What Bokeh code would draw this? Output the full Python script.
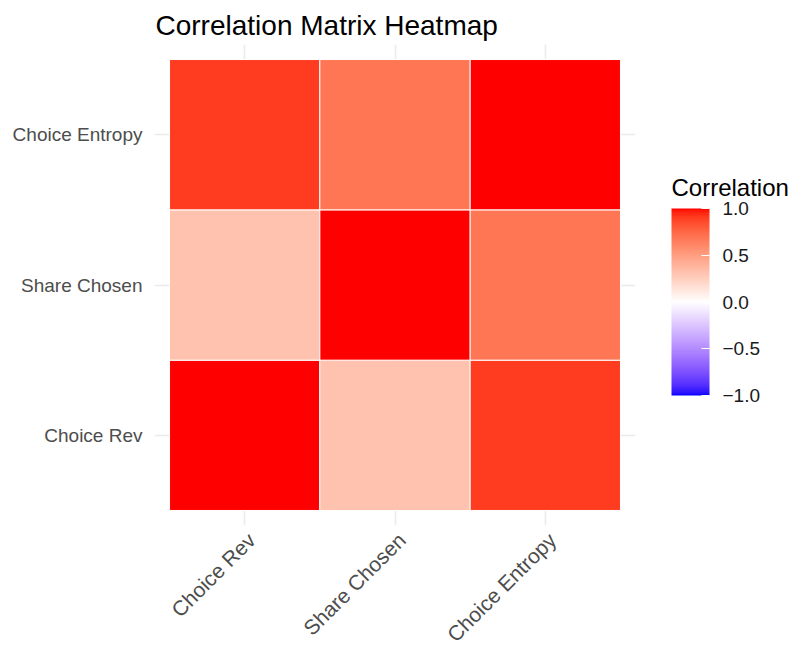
import math
from bokeh.plotting import figure
from bokeh.layouts import row
from bokeh.models import (ColumnDataSource, LinearColorMapper, ColorBar, FixedTicker,
                          CustomJSTickFormatter, Range1d, Label)
from bokeh.embed import file_html
from bokeh.resources import INLINE

# ---------------- data ----------------
variables = ["Choice Rev", "Share Chosen", "Choice Entropy"]
corr_choice_rev = [1.00, 0.32, 0.90]
corr_share_chosen = [0.32, 1.00, 0.68]
corr_choice_entropy = [0.90, 0.68, 1.00]
corr_rows = [corr_choice_rev, corr_share_chosen, corr_choice_entropy]
legend_ticks = [-1.0, -0.5, 0.0, 0.5, 1.0]
legend_title = "Correlation"
chart_title = "Correlation Matrix Heatmap"

# ---------------- colour scale (Lab interpolation blue-white-red) ----------------
def srgb_to_lab(hexc):
    r, g, b = [int(hexc[i:i + 2], 16) / 255 for i in (1, 3, 5)]
    def lin(c):
        return c / 12.92 if c <= 0.04045 else ((c + 0.055) / 1.055) ** 2.4
    r, g, b = lin(r), lin(g), lin(b)
    X = 0.4124 * r + 0.3576 * g + 0.1805 * b
    Y = 0.2126 * r + 0.7152 * g + 0.0722 * b
    Z = 0.0193 * r + 0.1192 * g + 0.9505 * b
    X, Z = X / 0.95047, Z / 1.08883
    def f(t):
        return t ** (1 / 3) if t > 0.008856 else 7.787 * t + 16 / 116
    fx, fy, fz = f(X), f(Y), f(Z)
    return (116 * fy - 16, 500 * (fx - fy), 200 * (fy - fz))

def lab_to_hex(L, a, b):
    fy = (L + 16) / 116
    fx = fy + a / 500
    fz = fy - b / 200
    def finv(t):
        return t ** 3 if t > 0.206893 else (t - 16 / 116) / 7.787
    X, Y, Z = 0.95047 * finv(fx), finv(fy), 1.08883 * finv(fz)
    r = 3.2406 * X - 1.5372 * Y - 0.4986 * Z
    g = -0.9689 * X + 1.8758 * Y + 0.0415 * Z
    bb = 0.0557 * X - 0.2040 * Y + 1.0570 * Z
    def gam(c):
        c = min(max(c, 0.0), 1.0)
        return 12.92 * c if c <= 0.0031308 else 1.055 * c ** (1 / 2.4) - 0.055
    return "#%02x%02x%02x" % tuple(int(round(gam(c) * 255)) for c in (r, g, bb))

low_lab = srgb_to_lab("#0000ff")
mid_lab = srgb_to_lab("#ffffff")
high_lab = srgb_to_lab("#ff0000")
N = 256
palette = []
for i in range(N):
    v = -1 + 2 * i / (N - 1)
    if v < 0:
        t = -v
        c = [m + (l - m) * t for m, l in zip(mid_lab, low_lab)]
    else:
        t = v
        c = [m + (h - m) * t for m, h in zip(mid_lab, high_lab)]
    palette.append(lab_to_hex(*c))

mapper = LinearColorMapper(palette=palette, low=-1, high=1)

xs, ys, vals = [], [], []
for yi, r in enumerate(corr_rows):
    for xi, v in enumerate(r):
        xs.append(xi + 1)
        ys.append(yi + 1)
        vals.append(v)
source = ColumnDataSource(dict(x=xs, y=ys, value=vals))

FONT = "Liberation Sans"
TOP, FRAME_W, FRAME_H, BOTTOM = 44, 481, 481, 124
X_LO, X_HI = 0.4, 3.6

# ---------------- main heatmap ----------------
p = figure(output_backend="svg", toolbar_location=None,
           frame_width=FRAME_W, frame_height=FRAME_H,
           x_range=Range1d(X_LO, X_HI), y_range=Range1d(0.4, 3.6),
           min_border_left=154, min_border_right=25,
           min_border_top=TOP, min_border_bottom=BOTTOM,
           title=chart_title)
p.outline_line_color = None
p.background_fill_color = "white"
p.border_fill_color = "white"

p.rect(x="x", y="y", width=1, height=1, source=source,
       fill_color={"field": "value", "transform": mapper},
       line_color="white", line_width=1)

tick_pos = [i + 1 for i in range(len(variables))]
# rotated x labels: anchor them slightly right of the tick (ggplot hjust/vjust = 1 look)
label_shift = 7 / (FRAME_W / (X_HI - X_LO))
x_label_pos = [t + label_shift for t in tick_pos]

p.xaxis.ticker = FixedTicker(ticks=x_label_pos)
p.xaxis.major_label_overrides = {t: n for t, n in zip(x_label_pos, variables)}
p.yaxis.ticker = FixedTicker(ticks=tick_pos)
p.yaxis.major_label_overrides = {t: n for t, n in zip(tick_pos, variables)}
for ax in (p.xaxis[0], p.yaxis[0]):
    ax.axis_line_color = None
    ax.major_tick_line_color = None
    ax.minor_tick_line_color = None
    ax.major_tick_in = 0
    ax.major_tick_out = 0
    ax.major_label_text_font = FONT
    ax.major_label_text_color = "#4d4d4d"
p.yaxis.major_label_text_font_size = "19px"
p.xaxis.major_label_text_font_size = "21px"
p.yaxis.major_label_standoff = 12
p.xaxis.major_label_standoff = 11
p.xaxis.major_label_orientation = math.pi / 4

for g in (p.xgrid[0], p.ygrid[0]):
    g.ticker = FixedTicker(ticks=tick_pos)
    g.grid_line_color = "#ebebeb"
    g.grid_line_width = 1.6
    g.minor_grid_line_color = None

p.title.text_font = FONT
p.title.text_font_size = "28px"
p.title.text_font_style = "normal"
p.title.text_color = "black"
p.title.align = "left"
p.title.offset = 1
p.title.standoff = 8

# ---------------- legend panel (frame in screen-pixel units) ----------------
leg = figure(output_backend="svg", toolbar_location=None,
             frame_width=118, frame_height=FRAME_H,
             x_range=Range1d(0, 118), y_range=Range1d(0, FRAME_H),
             min_border_left=11, min_border_right=0,
             min_border_top=TOP, min_border_bottom=BOTTOM,
             x_axis_location=None, y_axis_location=None)
leg.outline_line_color = None
leg.xgrid.visible = False
leg.ygrid.visible = False
leg.background_fill_color = "white"
leg.border_fill_color = "white"

color_bar = ColorBar(color_mapper=mapper, width=38, height=187,
                     ticker=FixedTicker(ticks=legend_ticks),
                     formatter=CustomJSTickFormatter(code="return (tick < 0 ? '\u2212' : '') + Math.abs(tick).toFixed(1);"),
                     major_label_text_font=FONT, major_label_text_font_size="19px",
                     major_label_text_color="#1a1a1a",
                     major_tick_line_color="white", major_tick_in=8, major_tick_out=0,
                     major_tick_line_width=1.2,
                     minor_tick_line_color=None, bar_line_color=None,
                     label_standoff=13, padding=0,
                     background_fill_color=None, border_line_color=None,
                     location=(0, 130))
leg.add_layout(color_bar)

legend_label = Label(x=0, y=338, text=legend_title, text_font=FONT,
                     text_font_size="24px", text_color="black",
                     text_baseline="alphabetic", text_align="left")
leg.add_layout(legend_label)

layout = row(p, leg, spacing=0)
open("out.html", "w").write(file_html(layout, INLINE))
